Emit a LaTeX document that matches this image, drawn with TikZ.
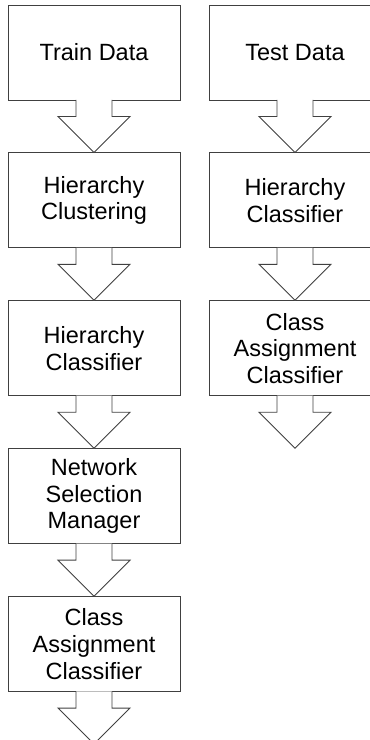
\documentclass[tikz,border=0pt]{standalone}
\usepackage{fontspec}
\setmainfont{Liberation Sans}
\usetikzlibrary{positioning}
\usetikzlibrary{calc}

\tikzset{
    stage/.style={draw=black!75, line width=0.9pt, minimum width=172pt, minimum height=95pt,
        align=center, inner sep=2pt, font=\fontsize{23.5}{26.6}\selectfont},
    flow/.style={draw=black!75, line width=0.9pt, fill=white, line join=miter}
}
% block arrow from the bottom of one box to a target point
\newcommand{\flowarrow}[2]{%
    \draw[flow] ($(#1.south)+(-18pt,0.6pt)$) -- ++(0,-16.6pt) -- ++(-18pt,0) -- (#2)
        -- ($(#1.south)+(36pt,-16pt)$) -- ++(-18pt,0) -- ++(0,16.6pt);}

\begin{document}
\begin{tikzpicture}
        \useasboundingbox (0,0) rectangle (370pt,-740pt);

        % training column
        \node[stage] (TrainData) at (94pt,-52.5pt) {Train Data};
        \node[stage, below=52pt of TrainData] (HierClust) {Hierarchy\\Clustering};
        \node[stage, below=52pt of HierClust] (HierClass) {Hierarchy\\Classifier};
        \node[stage, below=52pt of HierClass] (NetManager) {Network\\Selection\\Manager};
        \node[stage, below=52pt of NetManager] (ClassAssign) {Class\\Assignment\\Classifier};
        \coordinate[below=52pt of ClassAssign] (TrainEnd);

        % test column
        \node[stage] (TestData) at (295pt,-52.5pt) {Test Data};
        \node[stage, below=52pt of TestData] (TestHierClass) {Hierarchy\\Classifier};
        \node[stage, below=52pt of TestHierClass] (TestAssign) {Class\\Assignment\\Classifier};
        \coordinate[below=52pt of TestAssign] (TestEnd);

        \flowarrow{TrainData}{HierClust.north}
        \flowarrow{HierClust}{HierClass.north}
        \flowarrow{HierClass}{NetManager.north}
        \flowarrow{NetManager}{ClassAssign.north}
        \flowarrow{ClassAssign}{TrainEnd}

        \flowarrow{TestData}{TestHierClass.north}
        \flowarrow{TestHierClass}{TestAssign.north}
        \flowarrow{TestAssign}{TestEnd}
    \end{tikzpicture}
\end{document}
